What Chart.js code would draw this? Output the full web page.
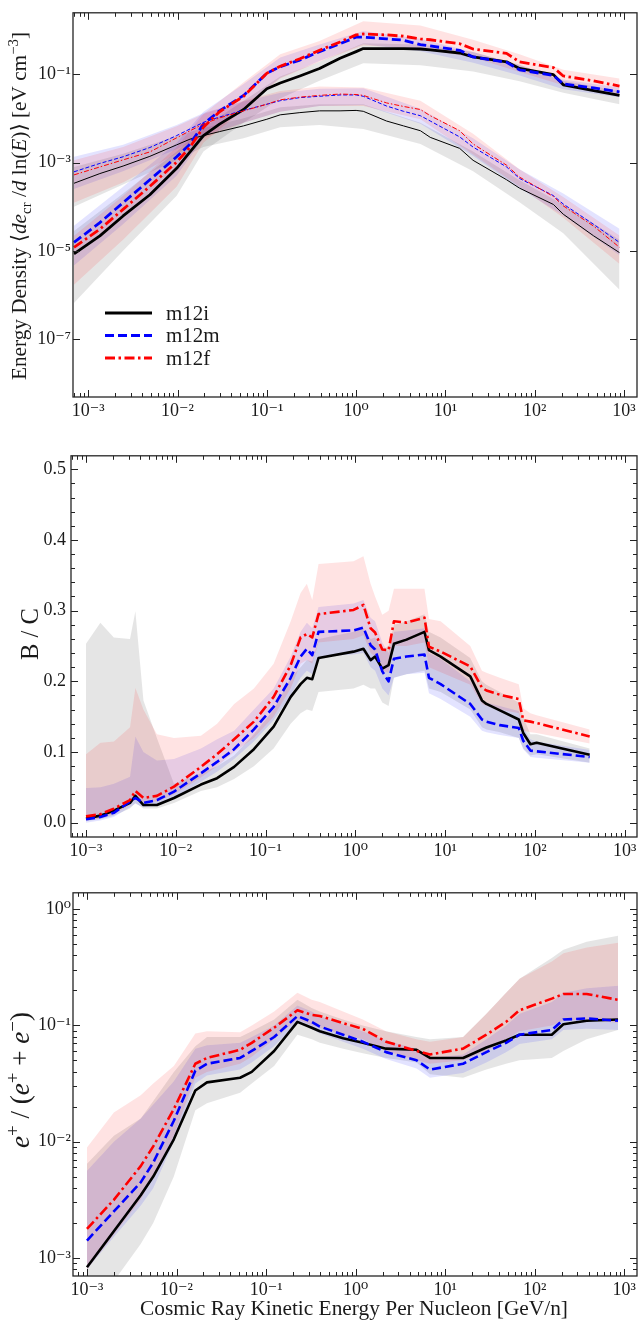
<!DOCTYPE html>
<html>
<head>
<meta charset="utf-8">
<script src="https://cdn.jsdelivr.net/npm/chart.js@4.4.1/dist/chart.umd.min.js"></script>
<style>
html, body { margin:0; padding:0; background:#ffffff; }
body { position:relative; width:640px; height:1321px; overflow:hidden; }
canvas { position:absolute; left:0; }
</style>
</head>
<body>
<canvas id="c1" width="640" height="440" style="top:0px"></canvas>
<canvas id="c2" width="640" height="440" style="top:440px"></canvas>
<canvas id="c3" width="640" height="441" style="top:880px"></canvas>
<script>
// ================= DATA =================
const galaxies = ['m12i', 'm12m', 'm12f'];

// ---- Panel 1: energy density; x = log10(E [GeV/n]), y = log10(eV cm^-3)
const edLogE = [-3.16, -2.87, -2.61, -2.31, -2.01, -1.86, -1.71, -1.53, -1.26, -1.00, -0.85, -0.63, -0.41, -0.18, 0.00, 0.08, 0.34, 0.53, 0.72, 0.83, 1.16, 1.31, 1.685, 1.83, 2.21, 2.32, 2.66, 2.95];
const edThickM12i = [-5.07, -4.66, -4.21, -3.73, -3.13, -2.76, -2.39, -2.13, -1.80, -1.33, -1.20, -1.04, -0.87, -0.64, -0.49, -0.42, -0.42, -0.42, -0.43, -0.45, -0.52, -0.61, -0.72, -0.87, -1.01, -1.24, -1.37, -1.48];
const edThickM12m = [-4.81, -4.36, -3.91, -3.39, -2.87, -2.58, -2.13, -1.83, -1.48, -0.98, -0.83, -0.68, -0.49, -0.31, -0.16, -0.16, -0.20, -0.23, -0.33, -0.36, -0.46, -0.61, -0.73, -0.90, -1.03, -1.22, -1.31, -1.40];
const edThickM12f = [-4.92, -4.51, -4.06, -3.54, -2.99, -2.65, -2.20, -1.85, -1.50, -0.98, -0.82, -0.65, -0.46, -0.27, -0.11, -0.09, -0.11, -0.14, -0.20, -0.22, -0.31, -0.43, -0.53, -0.72, -0.85, -1.04, -1.15, -1.27];
const edThinM12i = [-3.47, -3.25, -3.08, -2.86, -2.60, -2.47, -2.39, -2.30, -2.17, -2.02, -1.92, -1.87, -1.83, -1.83, -1.82, -1.84, -2.06, -2.17, -2.28, -2.43, -2.68, -2.95, -3.39, -3.58, -3.95, -4.17, -4.66, -5.04];
const edThinM12m = [-3.21, -3.02, -2.87, -2.66, -2.39, -2.24, -2.09, -1.97, -1.82, -1.68, -1.60, -1.53, -1.50, -1.47, -1.47, -1.50, -1.72, -1.84, -1.94, -2.06, -2.42, -2.65, -3.10, -3.36, -3.75, -3.94, -4.40, -4.81];
const edThinM12f = [-3.28, -3.10, -2.94, -2.76, -2.44, -2.28, -2.13, -1.99, -1.83, -1.68, -1.58, -1.52, -1.48, -1.45, -1.46, -1.48, -1.65, -1.73, -1.80, -1.94, -2.28, -2.58, -3.06, -3.33, -3.77, -3.98, -4.44, -4.92];
// shaded ranges (panel 1), on a coarser energy grid
const edBandLogE = [-3.16, -2.61, -2.01, -1.71, -1.26, -0.85, -0.41, 0.08, 0.72, 1.31, 1.83, 2.32, 2.95];
const edThickM12iHi = [-4.55, -3.70, -2.75, -2.20, -1.60, -1.05, -0.72, -0.30, -0.33, -0.50, -0.78, -1.15, -1.38];
const edThickM12iLo = [-6.18, -5.00, -3.75, -2.75, -2.10, -1.55, -1.15, -0.75, -0.80, -0.94, -1.16, -1.42, -1.68];
const edThickM12mHi = [-4.43, -3.55, -2.55, -1.85, -1.22, -0.62, -0.33, -0.02, -0.20, -0.50, -0.80, -1.12, -1.30];
const edThickM12mLo = [-5.33, -4.40, -3.30, -2.45, -1.75, -1.08, -0.70, -0.32, -0.48, -0.74, -1.03, -1.34, -1.52];
const edThickM12fHi = [-4.66, -3.75, -2.65, -1.90, -1.18, -0.55, -0.25, 0.20, 0.10, -0.22, -0.55, -0.90, -1.10];
const edThickM12fLo = [-5.77, -4.75, -3.55, -2.55, -1.80, -1.10, -0.72, -0.35, -0.42, -0.62, -0.95, -1.25, -1.48];
const edThinM12iHi = [-3.10, -2.80, -2.40, -2.22, -2.00, -1.75, -1.68, -1.68, -2.10, -2.75, -3.40, -3.95, -4.75];
const edThinM12iLo = [-4.00, -3.50, -2.95, -2.65, -2.45, -2.20, -2.15, -2.24, -2.58, -3.20, -3.90, -4.60, -5.88];
const edThinM12mHi = [-2.87, -2.60, -2.15, -1.88, -1.62, -1.42, -1.33, -1.32, -1.78, -2.45, -3.15, -3.70, -4.50];
const edThinM12mLo = [-3.60, -3.20, -2.70, -2.40, -2.10, -1.85, -1.72, -1.70, -2.12, -2.85, -3.58, -4.20, -5.10];
const edThinM12fHi = [-2.95, -2.65, -2.18, -1.90, -1.60, -1.38, -1.28, -1.30, -1.60, -2.35, -3.15, -3.78, -4.65];
const edThinM12fLo = [-3.91, -3.45, -2.80, -2.45, -2.10, -1.85, -1.72, -1.72, -2.02, -2.82, -3.55, -4.25, -5.30];

// ---- Panel 2: B / C ratio; x = log10(E), y linear
const bcLogE = [-3.00, -2.84, -2.69, -2.51, -2.45, -2.36, -2.21, -2.02, -1.72, -1.54, -1.35, -1.13, -0.91, -0.72, -0.61, -0.54, -0.48, -0.41, -0.02, 0.09, 0.17, 0.22, 0.30, 0.37, 0.43, 0.57, 0.77, 0.82, 0.95, 1.28, 1.41, 1.46, 1.61, 1.82, 1.87, 1.95, 2.02, 2.61];
const bcM12i = [0.006, 0.010, 0.017, 0.028, 0.038, 0.025, 0.025, 0.035, 0.054, 0.063, 0.079, 0.104, 0.136, 0.178, 0.196, 0.205, 0.203, 0.233, 0.242, 0.246, 0.230, 0.235, 0.218, 0.223, 0.253, 0.259, 0.270, 0.244, 0.235, 0.207, 0.173, 0.168, 0.159, 0.146, 0.127, 0.111, 0.113, 0.096];
const bcM12m = [0.005, 0.008, 0.014, 0.030, 0.035, 0.028, 0.032, 0.044, 0.070, 0.086, 0.104, 0.132, 0.164, 0.205, 0.235, 0.246, 0.237, 0.270, 0.272, 0.276, 0.251, 0.245, 0.214, 0.200, 0.232, 0.235, 0.238, 0.205, 0.196, 0.168, 0.146, 0.143, 0.138, 0.134, 0.116, 0.102, 0.101, 0.093];
const bcM12f = [0.009, 0.012, 0.020, 0.032, 0.045, 0.035, 0.038, 0.051, 0.079, 0.097, 0.118, 0.143, 0.178, 0.223, 0.262, 0.267, 0.262, 0.295, 0.301, 0.308, 0.275, 0.269, 0.245, 0.244, 0.285, 0.283, 0.290, 0.249, 0.242, 0.221, 0.191, 0.187, 0.181, 0.175, 0.145, 0.143, 0.141, 0.122];
const bcM12iHi = [0.253, 0.283, 0.262, 0.260, 0.299, 0.173, 0.120, 0.055, 0.070, 0.080, 0.095, 0.125, 0.160, 0.205, 0.220, 0.230, 0.228, 0.260, 0.270, 0.275, 0.260, 0.262, 0.245, 0.250, 0.280, 0.285, 0.295, 0.270, 0.262, 0.233, 0.200, 0.195, 0.185, 0.170, 0.150, 0.125, 0.125, 0.105];
const bcM12iLo = [0.002, 0.005, 0.010, 0.020, 0.028, 0.020, 0.020, 0.028, 0.045, 0.050, 0.062, 0.080, 0.105, 0.140, 0.155, 0.160, 0.158, 0.185, 0.190, 0.195, 0.190, 0.190, 0.170, 0.165, 0.205, 0.210, 0.215, 0.190, 0.185, 0.160, 0.135, 0.132, 0.128, 0.120, 0.105, 0.095, 0.097, 0.085];
const bcM12mHi = [0.049, 0.050, 0.055, 0.065, 0.122, 0.100, 0.088, 0.090, 0.105, 0.118, 0.130, 0.160, 0.190, 0.235, 0.270, 0.283, 0.275, 0.305, 0.310, 0.315, 0.290, 0.285, 0.255, 0.240, 0.270, 0.272, 0.275, 0.240, 0.232, 0.200, 0.175, 0.170, 0.165, 0.158, 0.135, 0.118, 0.115, 0.103];
const bcM12mLo = [0.000, 0.003, 0.008, 0.022, 0.027, 0.022, 0.025, 0.035, 0.058, 0.072, 0.090, 0.115, 0.145, 0.180, 0.205, 0.215, 0.210, 0.235, 0.238, 0.240, 0.220, 0.215, 0.190, 0.180, 0.205, 0.210, 0.212, 0.183, 0.175, 0.150, 0.130, 0.128, 0.124, 0.120, 0.104, 0.093, 0.092, 0.085];
const bcM12fHi = [0.097, 0.113, 0.115, 0.135, 0.191, 0.160, 0.125, 0.120, 0.123, 0.140, 0.168, 0.190, 0.225, 0.285, 0.325, 0.338, 0.315, 0.366, 0.370, 0.377, 0.338, 0.320, 0.294, 0.300, 0.331, 0.331, 0.331, 0.288, 0.285, 0.250, 0.215, 0.212, 0.205, 0.196, 0.162, 0.155, 0.152, 0.132];
const bcM12fLo = [0.003, 0.006, 0.012, 0.025, 0.035, 0.028, 0.030, 0.040, 0.064, 0.080, 0.100, 0.120, 0.150, 0.190, 0.225, 0.230, 0.225, 0.255, 0.260, 0.265, 0.240, 0.235, 0.215, 0.212, 0.250, 0.250, 0.255, 0.220, 0.213, 0.195, 0.168, 0.165, 0.160, 0.155, 0.130, 0.128, 0.127, 0.112];

// ---- Panel 3: positron fraction; x = log10(E), y = log10(fraction)
const posLogE = [-3.00, -2.70, -2.40, -2.26, -2.03, -1.79, -1.66, -1.29, -1.16, -0.91, -0.65, -0.49, -0.40, -0.14, 0.08, 0.34, 0.68, 0.83, 1.20, 1.46, 1.68, 1.83, 2.19, 2.32, 2.58, 2.93];
const posM12i = [-3.08, -2.77, -2.46, -2.30, -1.98, -1.56, -1.49, -1.45, -1.40, -1.22, -0.97, -1.02, -1.05, -1.11, -1.15, -1.20, -1.21, -1.28, -1.28, -1.19, -1.13, -1.08, -1.08, -0.99, -0.96, -0.95];
const posM12m = [-2.85, -2.60, -2.35, -2.18, -1.82, -1.39, -1.33, -1.28, -1.22, -1.10, -0.92, -0.97, -1.01, -1.08, -1.14, -1.23, -1.30, -1.38, -1.33, -1.23, -1.15, -1.08, -1.04, -0.95, -0.94, -0.96];
const posM12f = [-2.75, -2.50, -2.21, -2.04, -1.72, -1.33, -1.28, -1.21, -1.15, -1.02, -0.87, -0.91, -0.92, -0.98, -1.03, -1.14, -1.22, -1.25, -1.20, -1.08, -0.97, -0.87, -0.77, -0.73, -0.73, -0.78];
const posM12iHi = [-2.19, -1.95, -1.80, -1.65, -1.40, -1.18, -1.10, -1.10, -1.05, -0.95, -0.78, -0.85, -0.88, -0.95, -1.00, -1.05, -1.10, -1.12, -1.10, -0.90, -0.72, -0.60, -0.42, -0.35, -0.28, -0.23];
const posM12iLo = [-3.45, -3.20, -2.88, -2.70, -2.30, -1.73, -1.67, -1.58, -1.50, -1.35, -1.08, -1.12, -1.15, -1.20, -1.24, -1.28, -1.32, -1.42, -1.45, -1.38, -1.33, -1.30, -1.28, -1.22, -1.12, -1.04];
const posM12mHi = [-2.25, -2.00, -1.80, -1.68, -1.48, -1.20, -1.17, -1.15, -1.10, -1.00, -0.83, -0.88, -0.92, -0.99, -1.05, -1.13, -1.20, -1.28, -1.25, -1.12, -1.00, -0.90, -0.80, -0.72, -0.68, -0.66];
const posM12mLo = [-3.10, -2.82, -2.55, -2.40, -2.00, -1.50, -1.43, -1.38, -1.32, -1.18, -0.98, -1.03, -1.07, -1.14, -1.20, -1.29, -1.37, -1.45, -1.41, -1.32, -1.23, -1.16, -1.12, -1.04, -1.03, -1.04];
const posM12fHi = [-2.05, -1.75, -1.60, -1.50, -1.35, -1.07, -1.05, -1.06, -1.00, -0.88, -0.72, -0.78, -0.80, -0.88, -0.95, -1.05, -1.12, -1.14, -1.10, -0.90, -0.72, -0.60, -0.45, -0.38, -0.33, -0.29];
const posM12fLo = [-3.10, -2.80, -2.50, -2.30, -1.95, -1.45, -1.40, -1.33, -1.27, -1.12, -0.95, -1.00, -1.02, -1.08, -1.12, -1.22, -1.30, -1.33, -1.30, -1.22, -1.12, -1.05, -1.00, -0.96, -0.95, -0.98];

// ---- tick labels
const xTickExps = [-3, -2, -1, 0, 1, 2, 3];
const edYTickExps = [-7, -5, -3, -1];
const bcYTicks = [0.0, 0.1, 0.2, 0.3, 0.4, 0.5];
const posYTickExps = [-3, -2, -1, 0];

// ================= STYLE =================
const FONT = "'Liberation Serif', 'DejaVu Serif', serif";
const lineColors = ['#000000', '#0000ff', '#ff0000'];
const bandColors = ['rgba(0,0,0,0.10)', 'rgba(0,0,255,0.11)', 'rgba(255,0,0,0.11)'];
const thickDash = [[], [9, 4], [10, 3.5, 2.5, 3.5]];
const thinDash = [[], [4, 2], [5, 2, 1.5, 2]];

const pw = v => Math.pow(10, v);
const SUP = {'0':'\u2070','1':'\u00b9','2':'\u00b2','3':'\u00b3','4':'\u2074','5':'\u2075','6':'\u2076','7':'\u2077','8':'\u2078','9':'\u2079','-':'\u207b'};
const sup = n => String(n).split('').map(c => SUP[c]).join('');
const toPts = (lx, ys, logY) => lx.map((l, i) => ({ x: pw(l), y: logY ? pw(ys[i]) : ys[i] }));

function lineDs(label, lx, ys, logY, k, width, dash) {
  return { label, data: toPts(lx, ys, logY), borderColor: lineColors[k], backgroundColor: lineColors[k],
    borderWidth: width, borderDash: dash, pointRadius: 0, pointHoverRadius: 0, fill: false, tension: 0,
    order: 1 + (2 - k), borderJoinStyle: 'round', borderCapStyle: 'butt' };
}
function bandDs(lx, up, lo, logY, k) {
  const ord = 20 + (2 - k);
  return [
    { label: galaxies[k] + ' upper', data: toPts(lx, up, logY), borderWidth: 0, borderColor: 'rgba(0,0,0,0)',
      backgroundColor: bandColors[k], pointRadius: 0, fill: '+1', tension: 0, order: ord },
    { label: galaxies[k] + ' lower', data: toPts(lx, lo, logY), borderWidth: 0, borderColor: 'rgba(0,0,0,0)',
      backgroundColor: 'rgba(0,0,0,0)', pointRadius: 0, fill: false, tension: 0, order: ord }
  ];
}
function logMinors(lo, hi) {
  const out = [];
  for (let e = Math.floor(lo); e <= Math.ceil(hi); e++) for (let m = 2; m <= 9; m++) out.push(m * pw(e));
  return out;
}
function xAxis(minE, maxE, h) {
  return {
    type: 'logarithmic', position: 'bottom', min: pw(minE), max: pw(maxE),
    afterBuildTicks: s => { s.ticks = xTickExps.map(e => ({ value: pw(e) })); },
    afterFit: s => { s.height = h; },
    grid: { display: false, drawTicks: false }, border: { display: false },
    ticks: { autoSkip: false, maxRotation: 0, minRotation: 0, padding: 3, color: '#1a1a1a',
      font: { family: FONT, size: 18 }, callback: v => '10' + sup(Math.round(Math.log10(v))) }
  };
}
function yLogAxis(minE, maxE, w, exps) {
  return {
    type: 'logarithmic', position: 'left', min: pw(minE), max: pw(maxE),
    afterBuildTicks: s => { s.ticks = exps.map(e => ({ value: pw(e) })); },
    afterFit: s => { s.width = w; },
    grid: { display: false, drawTicks: false }, border: { display: false },
    ticks: { autoSkip: false, padding: 2, color: '#1a1a1a', font: { family: FONT, size: 18 },
      callback: v => '10' + sup(Math.round(Math.log10(v))) }
  };
}

function drawRich(ctx, segs, cx, cy, rot, targetW) {
  const fontOf = (s, size) => (s.it ? 'italic ' : '') + ((s.sub || s.sup) ? (size * 0.7).toFixed(2) : size.toFixed(2)) + 'px ' + FONT;
  const widthAt = size => segs.reduce((w, s) => { ctx.font = fontOf(s, size); return w + ctx.measureText(s.t).width; }, 0);
  const size = 20 * targetW / widthAt(20);
  const total = widthAt(size);
  ctx.save();
  ctx.translate(cx, cy); ctx.rotate(rot);
  ctx.fillStyle = '#1a1a1a'; ctx.textBaseline = 'alphabetic'; ctx.textAlign = 'left';
  let x = -total / 2; const base = size * 0.33;
  segs.forEach(s => {
    ctx.font = fontOf(s, size);
    const dy = s.sub ? size * 0.22 : (s.sup ? -size * 0.38 : 0);
    ctx.fillText(s.t, x, base + dy);
    x += ctx.measureText(s.t).width;
  });
  ctx.restore();
}

function decor(cfg) {
  return {
    id: 'decor',
    afterDatasetsDraw(chart) {
      const ctx = chart.ctx, a = chart.chartArea, xs = chart.scales.x, ys = chart.scales.y;
      ctx.save();
      ctx.strokeStyle = '#222'; ctx.lineWidth = 1;
      const tx = (vals, len) => vals.forEach(v => {
        const p = Math.round(xs.getPixelForValue(v)) + 0.5;
        if (p <= a.left + 1 || p >= a.right - 1) return;
        ctx.beginPath(); ctx.moveTo(p, a.bottom); ctx.lineTo(p, a.bottom - len);
        ctx.moveTo(p, a.top); ctx.lineTo(p, a.top + len); ctx.stroke();
      });
      const ty = (vals, len) => vals.forEach(v => {
        const p = Math.round(ys.getPixelForValue(v)) + 0.5;
        if (p <= a.top + 1 || p >= a.bottom - 1) return;
        ctx.beginPath(); ctx.moveTo(a.left, p); ctx.lineTo(a.left + len, p);
        ctx.moveTo(a.right, p); ctx.lineTo(a.right - len, p); ctx.stroke();
      });
      tx(cfg.xMajor, 7); tx(cfg.xMinor, 4);
      ty(cfg.yMajor, 7); ty(cfg.yMinor, 4);
      ctx.lineWidth = 1.3; ctx.strokeStyle = '#262626';
      ctx.strokeRect(a.left, a.top, a.right - a.left, a.bottom - a.top);
      (cfg.titles || []).forEach(t => drawRich(ctx, t.segs, t.x, t.y, t.rot, t.w));
      if (cfg.legend) {
        const L = cfg.legend;
        galaxies.forEach((g, k) => {
          const y = L.y0 + k * L.dy;
          ctx.strokeStyle = lineColors[k]; ctx.lineWidth = 3; ctx.setLineDash(thickDash[k]);
          ctx.beginPath(); ctx.moveTo(L.x0, y); ctx.lineTo(L.x1, y); ctx.stroke();
          ctx.setLineDash([]);
          ctx.fillStyle = '#1a1a1a'; ctx.font = L.size + 'px ' + FONT;
          ctx.textBaseline = 'middle'; ctx.textAlign = 'left';
          ctx.fillText(g, L.tx, y + 1);
        });
      }
      ctx.restore();
    }
  };
}

const common = (pad, scales) => ({
  responsive: false, animation: false, devicePixelRatio: 1,
  layout: { padding: pad, autoPadding: false },
  plugins: { legend: { display: false }, tooltip: { enabled: false },
    filler: { propagate: false, drawTime: 'beforeDatasetsDraw' } },
  scales
});

// ================= PANEL 1 =================
new Chart(document.getElementById('c1'), {
  type: 'line',
  data: { datasets: [
    ...bandDs(edBandLogE, edThickM12iHi, edThickM12iLo, true, 0),
    ...bandDs(edBandLogE, edThinM12iHi, edThinM12iLo, true, 0),
    ...bandDs(edBandLogE, edThickM12mHi, edThickM12mLo, true, 1),
    ...bandDs(edBandLogE, edThinM12mHi, edThinM12mLo, true, 1),
    ...bandDs(edBandLogE, edThickM12fHi, edThickM12fLo, true, 2),
    ...bandDs(edBandLogE, edThinM12fHi, edThinM12fLo, true, 2),
    lineDs('m12i', edLogE, edThickM12i, true, 0, 2.8, thickDash[0]),
    lineDs('m12m', edLogE, edThickM12m, true, 1, 2.8, thickDash[1]),
    lineDs('m12f', edLogE, edThickM12f, true, 2, 2.8, thickDash[2]),
    lineDs('m12i (thin)', edLogE, edThinM12i, true, 0, 1, thinDash[0]),
    lineDs('m12m (thin)', edLogE, edThinM12m, true, 1, 1, thinDash[1]),
    lineDs('m12f (thin)', edLogE, edThinM12f, true, 2, 1, thinDash[2])
  ] },
  options: common({ top: 7, right: 3, left: 0, bottom: 0 }, {
    x: xAxis(-3.171, 3.146, 43),
    y: yLogAxis(-8.309, 0.390, 73, edYTickExps)
  }),
  plugins: [decor({
    xMajor: xTickExps.map(pw), xMinor: logMinors(-4, 3),
    yMajor: edYTickExps.map(pw), yMinor: [],
    legend: { x0: 105, x1: 152, tx: 166, y0: 313, dy: 22.5, size: 21 },
    titles: [{ x: 19, y: 206, rot: -Math.PI / 2, w: 348, segs: [
      { t: 'Energy Density ' }, { t: '\u27e8' }, { t: 'de', it: true }, { t: 'cr', sub: true },
      { t: ' /' }, { t: 'd', it: true }, { t: ' ln(' }, { t: 'E', it: true }, { t: ')\u27e9 [eV cm' },
      { t: '\u22123', sup: true }, { t: ']' } ] }]
  })]
});

// ================= PANEL 2 =================
new Chart(document.getElementById('c2'), {
  type: 'line',
  data: { datasets: [
    ...bandDs(bcLogE, bcM12iHi, bcM12iLo, false, 0),
    ...bandDs(bcLogE, bcM12mHi, bcM12mLo, false, 1),
    ...bandDs(bcLogE, bcM12fHi, bcM12fLo, false, 2),
    lineDs('m12i', bcLogE, bcM12i, false, 0, 2.6, thickDash[0]),
    lineDs('m12m', bcLogE, bcM12m, false, 1, 2.6, thickDash[1]),
    lineDs('m12f', bcLogE, bcM12f, false, 2, 2.6, thickDash[2])
  ] },
  options: common({ top: 5, right: 3, left: 0, bottom: 0 }, {
    x: xAxis(-3.167, 3.137, 43),
    y: {
      type: 'linear', position: 'left', min: -0.0202, max: 0.519,
      afterBuildTicks: s => { s.ticks = bcYTicks.map(v => ({ value: v })); },
      afterFit: s => { s.width = 71; },
      grid: { display: false, drawTicks: false }, border: { display: false },
      ticks: { autoSkip: false, padding: 5, color: '#1a1a1a', font: { family: FONT, size: 18 },
        callback: v => Number(v).toFixed(1) }
    }
  }),
  plugins: [decor({
    xMajor: xTickExps.map(pw), xMinor: logMinors(-4, 3),
    yMajor: bcYTicks, yMinor: [0.02,0.04,0.06,0.08,0.12,0.14,0.16,0.18,0.22,0.24,0.26,0.28,0.32,0.34,0.36,0.38,0.42,0.44,0.46,0.48],
    titles: [{ x: 30, y: 194, rot: -Math.PI / 2, w: 52, segs: [{ t: 'B / C' }] }]
  })]
});

// ================= PANEL 3 =================
new Chart(document.getElementById('c3'), {
  type: 'line',
  data: { datasets: [
    ...bandDs(posLogE, posM12iHi, posM12iLo, true, 0),
    ...bandDs(posLogE, posM12mHi, posM12mLo, true, 1),
    ...bandDs(posLogE, posM12fHi, posM12fLo, true, 2),
    lineDs('m12i', posLogE, posM12i, true, 0, 2.6, thickDash[0]),
    lineDs('m12m', posLogE, posM12m, true, 1, 2.6, thickDash[1]),
    lineDs('m12f', posLogE, posM12f, true, 2, 2.6, thickDash[2])
  ] },
  options: common({ top: 6, right: 3, left: 0, bottom: 0 }, {
    x: xAxis(-3.156, 3.142, 45),
    y: yLogAxis(-3.155, 0.140, 73, posYTickExps)
  }),
  plugins: [decor({
    xMajor: xTickExps.map(pw), xMinor: logMinors(-4, 3),
    yMajor: posYTickExps.map(pw), yMinor: logMinors(-4, 0),
    titles: [
      { x: 20, y: 200, rot: -Math.PI / 2, w: 136, segs: [
        { t: 'e', it: true }, { t: '+', sup: true }, { t: ' / (' }, { t: 'e', it: true }, { t: '+', sup: true },
        { t: ' + ' }, { t: 'e', it: true }, { t: '\u2212', sup: true }, { t: ')' } ] },
      { x: 354, y: 428, rot: 0, w: 428, segs: [{ t: 'Cosmic Ray Kinetic Energy Per Nucleon [GeV/n]' }] }
    ]
  })]
});
</script>
</body>
</html>
